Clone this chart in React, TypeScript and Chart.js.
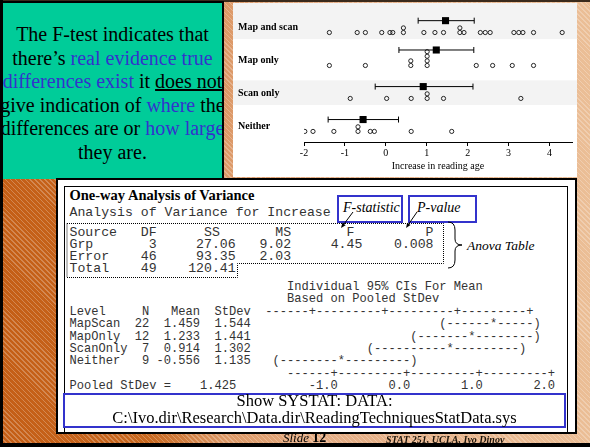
import React, { useEffect, useRef } from 'react';
import { Chart, registerables } from 'chart.js';
Chart.register(...registerables);

// ---------------- dot plot data ----------------
const groupLabels = ['Map and scan', 'Map only', 'Scan only', 'Neither'];
const mapAndScan = [-1.38, -0.7, -0.5, -0.1, 0.1, 0.17, 0.43, 0.43, 0.93, 1.2, 1.41, 1.81, 1.81, 1.91, 2.31, 2.43, 2.55, 3.13, 3.25, 3.35, 3.61, 4.31];
const mapOnly = [-1.38, -0.5, 0.61, 0.61, 1.01, 1.01, 1.01, 1.01, 2.21, 2.61, 3.09, 3.61];
const scanOnly = [-0.87, 0.02, 0.62, 1.01, 1.01, 1.41, 3.3];
const neither = [-1.98, -1.78, -1.27, -0.68, -0.68, -0.38, -0.28, 0.62, 1.61];
const groupMeans = [1.459, 1.233, 0.914, -0.556];
const ciLow = [0.79, 0.32, -0.26, -1.41];
const ciHigh = [2.16, 2.15, 2.13, 0.31];
const xTicks = [-2, -1, 0, 1, 2, 3, 4];
const xMin = -2;
const xMax = 4.55;
const xTitle = 'Increase in reading age';

// ---------------- Minitab output data ----------------
const anovaSource = ['Grp', 'Error', 'Total'];
const anovaDF = [3, 46, 49];
const anovaSS = [27.06, 93.35, 120.41];
const anovaMS = [9.02, 2.03];
const fStat = 4.45;
const pValue = 0.008;
const levelNames = ['MapScan', 'MapOnly', 'ScanOnly', 'Neither'];
const levelN = [22, 12, 7, 9];
const levelMean = [1.459, 1.233, 0.914, -0.556];
const levelSD = [1.544, 1.441, 1.302, 1.135];
const ciText = ['(------*-----)', '(-------*--------)', '(----------*---------)', '(--------*---------)'];
const ciCol = [51, 47, 41, 28];
const pooledSD = 1.425;
const ciAxisLabels = ['-1.0', '0.0', '1.0', '2.0'];
const axisDashes = '------+---------+---------+---------+';

// helpers for fixed-column text
type Part = [number, string];
function row(parts: Part[]): string {
  let s = '';
  for (const [c, t] of parts) s = s.padEnd(c, ' ') + t;
  return s;
}
function rj(end: number, t: string): Part {
  return [end - t.length + 1, t];
}

const topLines = [
  row([[0, 'Source'], [9, 'DF'], [17, 'SS'], [26, 'MS'], [35, 'F'], [45, 'P']]),
  row([[0, anovaSource[0]], rj(10, String(anovaDF[0])), rj(20, anovaSS[0].toFixed(2)), rj(27, anovaMS[0].toFixed(2)), rj(36, fStat.toFixed(2)), rj(45, pValue.toFixed(3))]),
  row([[0, anovaSource[1]], rj(10, String(anovaDF[1])), rj(20, anovaSS[1].toFixed(2)), rj(27, anovaMS[1].toFixed(2))]),
  row([[0, anovaSource[2]], rj(10, String(anovaDF[2])), rj(20, anovaSS[2].toFixed(2))]),
];

const bottomLines = [
  row([[30, 'Individual 95% CIs For Mean']]),
  row([[30, 'Based on Pooled StDev']]),
  row([[0, 'Level'], [10, 'N'], [14, 'Mean'], [20, 'StDev'], [27, axisDashes]]),
  ...levelNames.map((n, i) =>
    row([[0, n], rj(10, String(levelN[i])), rj(17, levelMean[i].toFixed(3)), rj(24, levelSD[i].toFixed(3)), [ciCol[i], ciText[i]]])
  ),
  row([[30, axisDashes]]),
  row([[0, 'Pooled StDev ='], rj(22, pooledSD.toFixed(3)), rj(36, ciAxisLabels[0]), rj(46, ciAxisLabels[1]), rj(56, ciAxisLabels[2]), rj(66, ciAxisLabels[3])]),
];

const BLUE = '#3333cc';
const MONO_COLOR = '#333333';

function arrow(x1: number, y1: number, x2: number, y2: number) {
  const dx = x2 - x1, dy = y2 - y1;
  const L = Math.hypot(dx, dy);
  const ux = dx / L, uy = dy / L;
  const bx = x2 - ux * 5, by = y2 - uy * 5;
  const px = -uy * 2, py = ux * 2;
  return (
    <g>
      <line x1={x1} y1={y1} x2={bx} y2={by} stroke="#000" strokeWidth={1} />
      <polygon points={`${x2},${y2} ${bx + px},${by + py} ${bx - px},${by - py}`} fill="#000" />
    </g>
  );
}

export default function App() {
  const ref = useRef<HTMLCanvasElement>(null);

  useEffect(() => {
    const groups = [mapAndScan, mapOnly, scanOnly, neither];
    const STACK = 0.14;
    const pts: { x: number; y: number }[] = [];
    const maxStack: number[] = [];
    groups.forEach((vals, gi) => {
      const seen = new Map<number, number>();
      let mx = 0;
      vals.forEach((v) => {
        const k = seen.get(v) || 0;
        seen.set(v, k + 1);
        mx = Math.max(mx, k + 1);
        pts.push({ x: v, y: gi - k * STACK });
      });
      maxStack.push(mx);
    });
    const meanY = groups.map((_, gi) => gi - (0.25 + 0.055 * maxStack[gi]));

    const errDatasets = groups.map((_, gi) => ({
      type: 'scatter' as const,
      showLine: true,
      data: [
        { x: ciLow[gi], y: meanY[gi] },
        { x: ciHigh[gi], y: meanY[gi] },
      ],
      borderColor: '#000',
      borderWidth: 1,
      pointStyle: 'line' as const,
      pointRotation: 90,
      pointRadius: 3,
      pointBorderWidth: 1,
      pointBorderColor: '#000',
      pointBackgroundColor: '#000',
    }));

    const bandPlugin = {
      id: 'bands',
      beforeDraw(chart: any) {
        const { ctx, width, height } = chart;
        const y = chart.scales.y;
        ctx.save();
        ctx.fillStyle = '#ffffff';
        ctx.fillRect(0, 0, width, height);
        ctx.fillStyle = '#f3f3f3';
        groupLabels.forEach((_, i) => {
          if (i % 2 !== 0) return;
          const top = i === 0 ? 0 : y.getPixelForValue(i - 0.55);
          const bot = y.getPixelForValue(i + 0.2);
          ctx.fillRect(0, top, width, bot - top);
        });
        ctx.fillStyle = '#000';
        ctx.font = 'bold 10px "Liberation Serif"';
        ctx.textBaseline = 'middle';
        ctx.textAlign = 'left';
        groupLabels.forEach((lab, i) => {
          ctx.fillText(lab, 5, y.getPixelForValue(i - 0.15));
        });
        ctx.restore();
      },
    };

    const chart = new Chart(ref.current!, {
      type: 'scatter',
      data: {
        datasets: [
          {
            data: pts,
            pointStyle: 'circle',
            pointRadius: 2.1,
            pointBorderWidth: 0.9,
            pointBorderColor: '#111',
            pointBackgroundColor: 'rgba(255,255,255,0)',
          },
          ...errDatasets,
          {
            data: groupMeans.map((m, gi) => ({ x: m, y: meanY[gi] })),
            pointStyle: 'rect',
            pointRadius: 5,
            pointBorderWidth: 0,
            pointBackgroundColor: '#000',
            pointBorderColor: '#000',
          },
        ] as any,
      },
      options: {
        animation: false,
        responsive: false,
        devicePixelRatio: 1,
        layout: { padding: { left: 71, right: 0, top: 0, bottom: 0 } },
        plugins: { legend: { display: false }, tooltip: { enabled: false } },
        scales: {
          x: {
            type: 'linear',
            min: xMin,
            max: xMax,
            afterBuildTicks: (s: any) => {
              s.ticks = xTicks.map((v) => ({ value: v }));
            },
            afterFit: (s: any) => {
              s.height = 35;
            },
            ticks: {
              color: '#000',
              font: { family: 'Liberation Serif', size: 10 },
              padding: 1,
              maxRotation: 0,
              autoSkip: false,
            },
            grid: { display: true, drawOnChartArea: false, drawTicks: true, tickLength: 4, color: '#000', lineWidth: 1 },
            border: { display: true, color: '#000', width: 1 },
            title: {
              display: true,
              text: xTitle,
              color: '#000',
              font: { family: 'Liberation Serif', size: 10 },
              padding: { top: 0, bottom: 5 },
            },
          },
          y: { type: 'linear', reverse: true, min: -0.744, max: 3.321, display: false },
        },
      },
      plugins: [bandPlugin],
    });
    return () => chart.destroy();
  }, []);

  const page: React.CSSProperties = {
    position: 'fixed',
    left: 0,
    top: 0,
    width: 590,
    height: 447,
    overflow: 'hidden',
    backgroundImage:
      'repeating-linear-gradient(45deg, rgba(255,255,255,0.25) 0px, rgba(255,255,255,0.25) 1px, rgba(255,255,255,0) 1px, rgba(255,255,255,0) 3.5px), linear-gradient(to right, #c45e16 0%, #c8681f 25%, #dc9866 38%, #e5ae86 55%, #ebbe96 100%)',
  };
  const abs = (l: number, t: number, w?: number, h?: number): React.CSSProperties => ({
    position: 'absolute',
    left: l,
    top: t,
    ...(w !== undefined ? { width: w } : {}),
    ...(h !== undefined ? { height: h } : {}),
  });
  const serif = '"Liberation Serif", "Times New Roman", serif';
  const mono = '"Liberation Mono", "Courier New", monospace';
  const blue = { color: BLUE };

  return (
    <div style={page}>
      {/* slide frame lines */}
      <div style={{ ...abs(0, 0, 590, 2), background: '#3a2a1c' }} />
      <div style={{ ...abs(0, 0, 2.5, 447), background: '#000' }} />
      <div style={{ ...abs(0, 443, 590, 4), background: '#000' }} />

      {/* green text box */}
      <div
        style={{
          ...abs(1, 1, 223, 178),
          boxSizing: 'border-box',
          background: '#00cc99',
          borderTop: '2px solid #000',
          borderLeft: '2px solid #000',
          borderRight: '2px solid #000',
          overflow: 'hidden',
        }}
      >
        <div
          style={{
            position: 'absolute',
            left: -20,
            width: 259,
            top: 20,
            textAlign: 'center',
            whiteSpace: 'nowrap',
            fontFamily: serif,
            fontSize: 20,
            lineHeight: '23.6px',
            color: '#000',
          }}
        >
          The F-test indicates that
          <br />
          there’s <span style={blue}>real evidence true</span>
          <br />
          <span style={blue}>differences exist</span> it <span style={{ textDecoration: 'underline' }}>does not</span>
          <br />
          give indication of <span style={blue}>where</span> the
          <br />
          differences are or <span style={blue}>how large</span>
          <br />
          they are.
        </div>
      </div>

      {/* dot plot panel */}
      <canvas ref={ref} width={344} height={174} style={{ ...abs(233, 3, 344, 174), display: 'block' }} />

      {/* lower output box */}
      <div style={{ ...abs(56, 178, 521, 256), boxSizing: 'border-box', background: '#fff', border: '2px solid #000' }} />
      <div style={{ ...abs(64, 186, 504, 247), boxSizing: 'border-box', borderTop: '1.5px solid #000', borderLeft: '1.5px solid #000', borderRight: '1.5px solid #000' }} />

      <div style={{ ...abs(69.5, 187), fontFamily: serif, fontWeight: 'bold', fontSize: 14.5, lineHeight: '16px', whiteSpace: 'pre', color: '#000' }}>
        One-way Analysis of Variance
      </div>
      <div style={{ ...abs(69.5, 206.8), fontFamily: mono, fontSize: 13.2, lineHeight: '12px', whiteSpace: 'pre', color: MONO_COLOR }}>
        Analysis of Variance for Increase
      </div>
      <div style={{ ...abs(69.5, 227.3), fontFamily: mono, fontSize: 13.2, lineHeight: '12px', whiteSpace: 'pre', color: MONO_COLOR }}>
        {topLines.join('\n')}
      </div>
      <div style={{ ...abs(69.5, 281), fontFamily: mono, fontSize: 12.08, lineHeight: '12.4px', whiteSpace: 'pre', color: MONO_COLOR }}>
        {bottomLines.join('\n')}
      </div>

      {/* callout boxes */}
      <div style={{ ...abs(337, 195, 66, 28), boxSizing: 'border-box', border: `2.5px solid ${BLUE}`, background: '#fff' }} />
      <div style={{ ...abs(408, 195, 69, 28), boxSizing: 'border-box', border: `2.5px solid ${BLUE}`, background: '#fff' }} />
      <div style={{ ...abs(343, 200), fontFamily: serif, fontStyle: 'italic', fontSize: 14, lineHeight: '16px', color: '#000', whiteSpace: 'pre' }}>F-statistic</div>
      <div style={{ ...abs(417, 200), fontFamily: serif, fontStyle: 'italic', fontSize: 14, lineHeight: '16px', color: '#000', whiteSpace: 'pre' }}>P-value</div>
      <div style={{ ...abs(467, 238), fontFamily: serif, fontStyle: 'italic', fontSize: 13.5, lineHeight: '16px', color: '#000', whiteSpace: 'pre' }}>Anova Table</div>

      <svg width={590} height={447} style={{ position: 'absolute', left: 0, top: 0, pointerEvents: 'none' }}>
        <path d="M67,223.5 H443.5 V263.5 H237.5 V277.5 H67 Z" fill="none" stroke="#000" strokeWidth={1} strokeDasharray="1 1" />
        {arrow(353, 212, 341, 228)}
        {arrow(417, 212, 406, 228)}
        <path d="M448,222 Q455,222 455,230 L455,239 Q455,245 462,245 Q455,245 455,251 L455,260 Q455,268 448,268" fill="none" stroke="#000" strokeWidth={1} />
      </svg>

      {/* SYSTAT note */}
      <div style={{ ...abs(63, 393, 503, 35), boxSizing: 'border-box', border: `2.5px solid ${BLUE}`, background: '#fff' }} />
      <div style={{ ...abs(63, 392, 503), textAlign: 'center', fontFamily: serif, fontSize: 16.5, lineHeight: '17px', color: '#000', whiteSpace: 'pre' }}>
        {'Show SYSTAT: DATA:\nC:\\Ivo.dir\\Research\\Data.dir\\ReadingTechniquesStatData.sys'}
      </div>

      {/* footer */}
      <div style={{ ...abs(283, 431), fontFamily: serif, fontStyle: 'italic', fontSize: 13, lineHeight: '14px', color: '#000', whiteSpace: 'pre' }}>
        Slide <span style={{ fontStyle: 'normal', fontWeight: 'bold', fontSize: 14 }}>12</span>
      </div>
      <div style={{ ...abs(386, 434), fontFamily: serif, fontStyle: 'italic', fontWeight: 'bold', fontSize: 10, lineHeight: '11px', color: '#1a1208', whiteSpace: 'pre' }}>
        STAT 251, UCLA, Ivo Dinov
      </div>
    </div>
  );
}
